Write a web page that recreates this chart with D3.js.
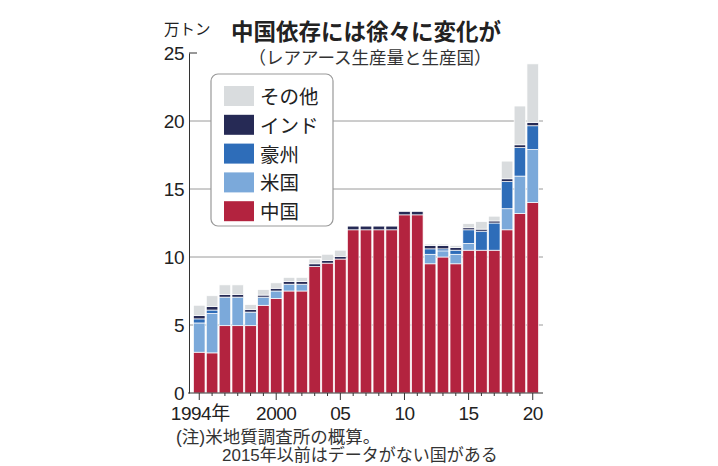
<!DOCTYPE html>
<html><head><meta charset="utf-8">
<script src="https://cdn.jsdelivr.net/npm/d3@7"></script>
<style>
html,body{margin:0;padding:0;background:#fff;}
svg{display:block;font-family:"Liberation Sans","Noto Sans CJK JP",sans-serif;}
</style></head>
<body>
<svg id="c" width="718" height="466"></svg>
<script>
const years = [1994,1995,1996,1997,1998,1999,2000,2001,2002,2003,2004,2005,2006,2007,2008,2009,2010,2011,2012,2013,2014,2015,2016,2017,2018,2019,2020];
const china = [3.0,2.95,4.95,4.95,4.95,6.45,6.95,7.5,7.5,9.3,9.55,9.85,12.0,12.0,12.0,12.0,13.1,13.1,9.5,10.0,9.5,10.5,10.5,10.5,12.0,13.2,14.0];
const usa   = [2.15,2.9,2.1,2.1,1.0,0.6,0.55,0.5,0.5,0,0,0,0,0,0,0,0,0,0.7,0.45,0.7,0.5,0,0,1.55,2.75,3.9];
const aus   = [0.3,0.25,0,0,0,0,0,0,0,0,0,0,0,0,0,0,0,0,0.4,0.15,0.3,1.0,1.4,2.0,2.0,2.1,1.75];
const india = [0.25,0.25,0.2,0.2,0.2,0.15,0.2,0.2,0.2,0.2,0.2,0.2,0.27,0.27,0.27,0.27,0.25,0.25,0.25,0.25,0.2,0.15,0.15,0.15,0.2,0.2,0.25];
const other = [0.75,0.8,0.7,0.7,0.35,0.4,0.4,0.3,0.3,0.35,0.45,0.45,0,0,0,0,0,0,0.1,0.1,0.15,0.3,0.55,0.35,1.3,2.85,4.3];
const seriesKeys = ["china","usa","aus","india","other"];
const seriesNames = {china:"中国",usa:"米国",aus:"豪州",india:"インド",other:"その他"};
const colors = {china:"#b3233f",usa:"#7ba9da",aus:"#2e6db9",india:"#262a55",other:"#d9dcde"};
const yTicks = [0,5,10,15,20,25];
const xTickYears = [1994,2000,2005,2010,2015,2020];
const xTickLabels = ["1994年","2000","05","10","15","20"];
const title = "中国依存には徐々に変化が";
const subtitle = "（レアアース生産量と生産国）";
const unit = "万トン";
const notes = ["(注)米地質調査所の概算。","2015年以前はデータがない国がある"];

const table = years.map((yr,i)=>({year:yr,china:china[i],usa:usa[i],aus:aus[i],india:india[i],other:other[i]}));
const stack = d3.stack().keys(seriesKeys)(table);

const svg = d3.select("#c");
const x = d3.scaleBand().domain(years).range([189,543]).paddingInner(0.1).paddingOuter(0.35);
const y = d3.scaleLinear().domain([0,25]).range([393,53]);

// gridlines
svg.append("g").selectAll("line").data([5,10,15,20]).join("line")
  .attr("x1",189).attr("x2",543).attr("y1",d=>y(d)).attr("y2",d=>y(d))
  .attr("stroke","#9a9a9a").attr("stroke-width",1);
svg.append("line").attr("x1",189).attr("x2",197).attr("y1",y(25)).attr("y2",y(25)).attr("stroke","#333");

// bars
svg.append("g").selectAll("g").data(stack).join("g")
  .attr("fill",d=>colors[d.key])
  .selectAll("rect").data(d=>d.filter(p=>p[1]-p[0]>0)).join("rect")
  .attr("x",d=>x(d.data.year)).attr("width",x.bandwidth())
  .attr("y",d=>y(d[1])).attr("height",d=>y(d[0])-y(d[1]))
  .attr("stroke","#fff").attr("stroke-width",0.7);

// y axis
const yAxis = svg.append("g").attr("transform","translate(189,0)")
  .call(d3.axisLeft(y).tickValues(yTicks).tickSize(0).tickPadding(5));
yAxis.select(".domain").attr("stroke","#333");
yAxis.selectAll("text").attr("font-size",19).attr("fill","#222").attr("letter-spacing","-0.5px")
  .attr("font-family","Liberation Sans, sans-serif");

// x axis
svg.append("line").attr("x1",188).attr("x2",543).attr("y1",393).attr("y2",393).attr("stroke","#333");
svg.append("g").selectAll("line").data(years).join("line")
  .attr("x1",d=>x(d)+x.bandwidth()/2).attr("x2",d=>x(d)+x.bandwidth()/2)
  .attr("y1",393).attr("y2",d=>xTickYears.includes(d)?400:396).attr("stroke","#333");
svg.append("g").selectAll("text").data(xTickYears).join("text")
  .attr("x",d=>x(d)+x.bandwidth()/2+(d===1994?1:0)).attr("y",420)
  .attr("text-anchor","middle").attr("font-size",19).attr("fill","#222").attr("letter-spacing","-0.5px")
  .text((d,i)=>xTickLabels[i]);

// unit, title
svg.append("text").attr("x",164).attr("y",35).attr("font-size",15.5).attr("fill","#222").text(unit);
svg.append("text").attr("x",366).attr("y",40).attr("text-anchor","middle").attr("font-size",22.5).attr("font-weight","bold").attr("fill","#222").text(title);
svg.append("text").attr("x",370).attr("y",64).attr("text-anchor","middle").attr("font-size",17.5).attr("fill","#333").text(subtitle);

// legend
const lg = svg.append("g");
lg.append("rect").attr("x",211).attr("y",74).attr("width",122).attr("height",152).attr("rx",7)
  .attr("fill","#fff").attr("stroke","#999").attr("stroke-width",1.2);
const legendOrder = ["other","india","aus","usa","china"];
legendOrder.forEach((k,i)=>{
  const yy = 86 + i*28.8;
  lg.append("rect").attr("x",224).attr("y",yy).attr("width",30).attr("height",20).attr("fill",colors[k]);
  lg.append("text").attr("x",260).attr("y",yy+18).attr("font-size",19.5).attr("fill","#222").text(seriesNames[k]);
});

// notes
svg.append("text").attr("x",176).attr("y",443).attr("font-size",17.5).attr("fill","#333").text(notes[0]);
svg.append("text").attr("x",222).attr("y",461).attr("font-size",17).attr("fill","#333").text(notes[1]);
</script>
</body></html>
